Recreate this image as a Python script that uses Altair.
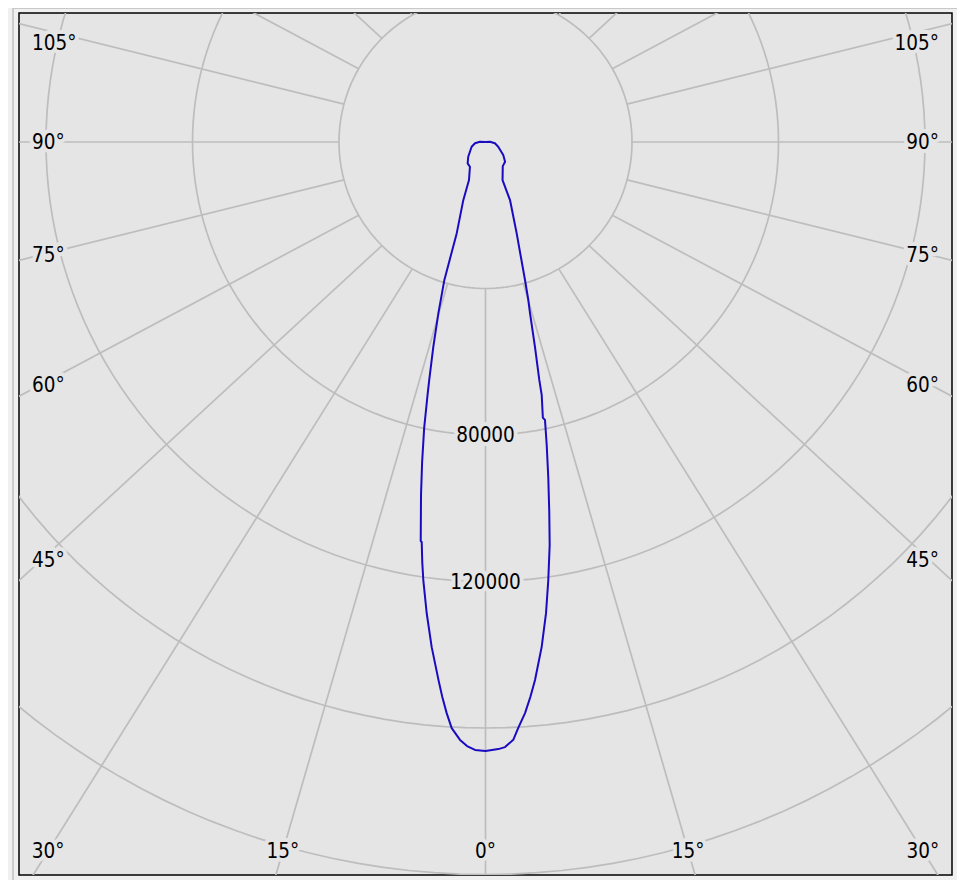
import altair as alt
import numpy as np
import pandas as pd

# ---------------- data ----------------
# luminous intensity curve (cd). Negative angles = left half (C180), listed top -> nadir
left_angle = [-180, -93, -86.4, -82.9, -71.2, -49.5, -39.9, -32.1, -23.5, -20.9, -17.5,
              -16.6, -15.4, -14.3, -13.3, -12.9, -12.1, -11.2, -10.35, -9.22, -9.06,
              -8.56, -8.08, -7.12, -6.08, -4.99, -4.45, -3.89, -3.3, -2.44, -1.75, -0.99]
left_cd = [0, 1500, 2200, 2900, 4000, 6200, 7600, 8000, 11300, 17000, 26100,
           39300, 48400, 57700, 66800, 70900, 79900, 89100, 98000, 110400, 110600,
           116000, 120800, 129600, 138700, 147500, 152000, 156300, 160300, 163400,
           165000, 166000]
# right half (C0), listed nadir -> top
right_angle = [0, 1.21, 1.85, 2.66, 3.2, 3.96, 4.64, 5.26, 6.35, 7.32, 8.16, 9.05, 9.78,
               10.59, 11.42, 12.08, 11.75, 12.52, 12.74, 13.57, 14.59, 15.16, 15.97,
               18.86, 22.9, 24.1, 35.6, 44.7, 53.9, 69.8, 82.2, 85.9, 93.8, 180]
right_cd = [166300, 165800, 165300, 163400, 160200, 156300, 151900, 147500, 138700,
            129700, 120800, 111400, 102500, 93300, 84400, 77600, 76900, 70800, 66600,
            57600, 48200, 44700, 39200, 26300, 17200, 11400, 8100, 7600, 6000, 3700,
            2600, 1900, 1200, 0]

ring_values = [40000, 80000, 120000, 160000, 200000]
ring_labels = [80000, 120000]
spoke_angles = list(range(-165, 181, 15))
angle_labels = [0, 15, 30, 45, 60, 75, 90, 105]

# ---------------- geometry of the reference frame ----------------
U = 40000 / 146.5                 # cd per screen pixel
CX, CY = 485.5, 142.0             # pole (page px)
X0, X1, Y0, Y1 = 19, 952, 13, 875 # frame (page px)
W, H = X1 - X0, Y1 - Y0
xdom = [(X0 - CX) * U, (X1 - CX) * U]
ydom = [(CY - Y1) * U, (CY - Y0) * U]
INNER, OUTER, STRETCH = 40000, 250000, 1.07

FONT = "DejaVu Sans Condensed, Noto Sans, sans-serif"
FS = 20.5
BG = "#e5e5e5"
GRID = "#bdbdbd"

xs = alt.Scale(domain=xdom, nice=False, zero=False)
ys = alt.Scale(domain=ydom, nice=False, zero=False)
X = lambda f: alt.X(f, type="quantitative", scale=xs, axis=None)
Y = lambda f: alt.Y(f, type="quantitative", scale=ys, axis=None)

# curve
ang = np.array(left_angle + right_angle, dtype=float)
cd = np.array(left_cd + right_cd, dtype=float)
curve = pd.DataFrame({
    "i": np.arange(len(ang)),
    "x": cd * np.sin(np.radians(ang)),
    "y": -cd * np.cos(np.radians(ang)),
})

# rings
rows = []
for v in ring_values:
    for k, a in enumerate(range(0, 361, 2)):
        t = np.radians(a)
        rows.append({"ring": v, "k": k, "x": v * np.sin(t), "y": -v * np.cos(t)})
rings = pd.DataFrame(rows)

# spokes
def spoke(theta):
    s, c = np.sin(np.radians(theta)), np.cos(np.radians(theta))
    return (INNER * s, -INNER * c), (STRETCH * OUTER * s, -OUTER * c)

srows = []
for a in spoke_angles:
    p0, p1 = spoke(a)
    srows.append({"x": p0[0], "y": p0[1], "x2": p1[0], "y2": p1[1]})
spokes = pd.DataFrame(srows)

# angle labels placed where each spoke leaves the frame
lab = {"left": [], "right": [], "center": []}
for a in angle_labels:
    for sign in ([1] if a == 0 else [-1, 1]):
        th = sign * a
        (px0, py0), (px1, py1) = spoke(th)
        dx, dy = px1 - px0, py1 - py0
        bottom = True
        if abs(dx) > 1e-9:
            edge = xdom[1] if dx > 0 else xdom[0]
            yexit = py0 + (edge - px0) / dx * dy
            bottom = yexit < ydom[0]
        text = f"{a}°"
        if bottom:
            yc = ydom[0] + 24 * U
            xc = px0 + (yc - py0) / dy * dx
            lab["center"].append({"x": xc, "y": yc, "t": text})
        else:
            sgn = 1 if dx > 0 else -1
            edge = xdom[1] if sgn > 0 else xdom[0]
            xa = edge - sgn * 13 * U
            xm = edge - sgn * 22 * U
            yc = py0 + (xm - px0) / dx * dy
            yc = min(yc, ydom[1] - 30 * U)
            lab["right" if sgn > 0 else "left"].append({"x": xa, "y": yc, "t": text})

ringlab = pd.DataFrame({"x": [0.0] * len(ring_labels),
                        "y": [-v for v in ring_labels],
                        "t": [str(v) for v in ring_labels]})


def text_layers(df, align):
    base = alt.Chart(df).encode(x=X("x"), y=Y("y"), text="t:N")
    halo = base.mark_text(align=align, baseline="middle", font=FONT, fontSize=FS,
                          dy=1, stroke=BG, strokeWidth=8, strokeJoin="round", fill=BG)
    txt = base.mark_text(align=align, baseline="middle", font=FONT, fontSize=FS,
                         dy=1, color="#000000")
    return [halo, txt]


ring_layer = alt.Chart(rings).mark_line(color=GRID, strokeWidth=1.7, clip=True).encode(
    x=X("x"), y=Y("y"), detail="ring:N", order="k:Q")
spoke_layer = alt.Chart(spokes).mark_rule(color=GRID, strokeWidth=1.7, clip=True).encode(
    x=X("x"), y=Y("y"), x2="x2", y2="y2")
curve_layer = alt.Chart(curve).mark_line(color="#1a0bc0", strokeWidth=2, clip=True,
                                         strokeJoin="round").encode(
    x=X("x"), y=Y("y"), order="i:Q")

deco = pd.DataFrame({"a": [0]})
left_edge = alt.Chart(deco).mark_rule(color="#a8a8a8", strokeWidth=1).encode(
    x=alt.value(-6), y=alt.value(-5), y2=alt.value(870))
top_edge = alt.Chart(deco).mark_rule(color="#c8c8c8", strokeWidth=1).encode(
    x=alt.value(-6), x2=alt.value(938), y=alt.value(-4.5))

layers = [left_edge, top_edge, ring_layer, spoke_layer, curve_layer]
layers += text_layers(ringlab, "center")
for al in ("left", "right", "center"):
    if lab[al]:
        layers += text_layers(pd.DataFrame(lab[al]), al)

chart = alt.layer(*layers).properties(
    width=W, height=H,
    padding={"left": 11, "top": 5, "right": 5, "bottom": 5},
    autosize=alt.AutoSizeParams(type="none"),
    background="#f0f0f0",
).configure_view(fill=BG, stroke="#000000", strokeWidth=1.5)

chart.save("out.html", embed_options={"renderer": "svg", "actions": False})
